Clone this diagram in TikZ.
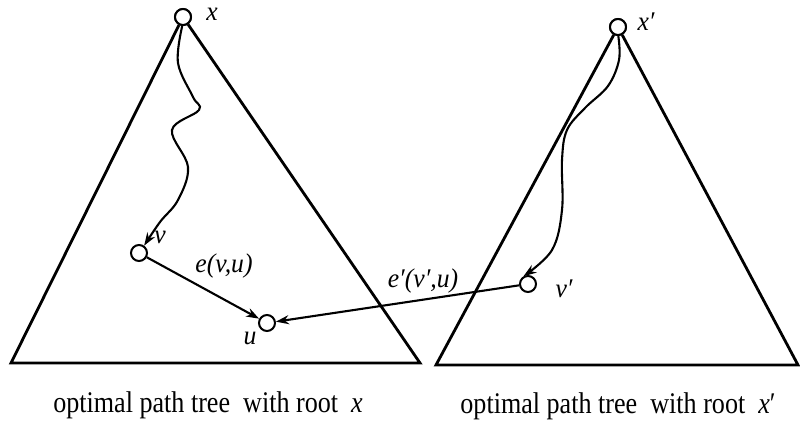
\documentclass[tikz,border=0pt]{standalone}
\usepackage{fontspec}
\setmainfont{Liberation Serif}
\usetikzlibrary{arrows.meta}
\tikzset{
  vtx/.style={circle,draw,line width=2pt,inner sep=0pt,minimum size=16pt,fill=white},
  tri/.style={line width=2.8pt,line join=miter},
  arr/.style={line width=2.1pt,-{Stealth[length=13pt,width=9pt]}},
  lbl/.style={font=\fontsize{27}{29}\selectfont\itshape,inner sep=0pt,xscale=0.95},
  captext/.style={font=\fontsize{30}{32}\selectfont,inner sep=0pt,xscale=0.87}
}
\begin{document}
\begin{tikzpicture}[x=1pt,y=-1pt]
\useasboundingbox (0,0) rectangle (800,425);
% nodes
\node[vtx] (nx) at (183,17) {};
\node[vtx] (nxp) at (618,27) {};
\node[vtx] (nv) at (139,253) {};
\node[vtx] (nu) at (267,323) {};
\node[vtx] (nvp) at (528,284) {};
\coordinate (L1) at (11,363);
\coordinate (R1) at (420,363);
\coordinate (L2) at (436,365);
\coordinate (R2) at (798,365);
% triangles
\draw[tri] (nx) -- (L1) -- (R1) -- (nx);
\draw[tri] (nxp) -- (L2) -- (R2) -- (nxp);
\node[vtx] at (nx) {};
\node[vtx] at (nxp) {};
% wavy paths
\draw[arr] plot[smooth,tension=0.6] coordinates {(nx.-95) (178,63) (193,97) (199,110) (172,130) (188,167) (178,200) (160,222) (nv.55)};
\draw[arr] plot[smooth,tension=0.6] coordinates {(nxp.-88) (619,60) (608,86) (585,108) (567,130) (562,160) (562,210) (552,250) (nvp.120)};
% edges
\draw[arr] (nv) -- (nu);
\draw[arr] (nvp) -- (nu);
% labels
\node[lbl] (lx) at (212,14) {x};
\node[lbl] (lxp) at (646,22) {x′};
\node[lbl] (lv) at (160,237) {v};
\node[lbl] (lu) at (250,338) {u};
\node[lbl] (lvp) at (564,289) {v′};
\node[lbl] (le) at (224,266) {e(v,u)};
\node[lbl] (lep) at (423,281) {e′(v′,u)};
\node[captext] (c1) at (208,405) {optimal path tree\ \ with root\ \ \textit{x}};
\node[captext] (c2) at (618,406) {optimal path tree\ \ with root\ \ \textit{x}′};
\end{tikzpicture}
\end{document}
